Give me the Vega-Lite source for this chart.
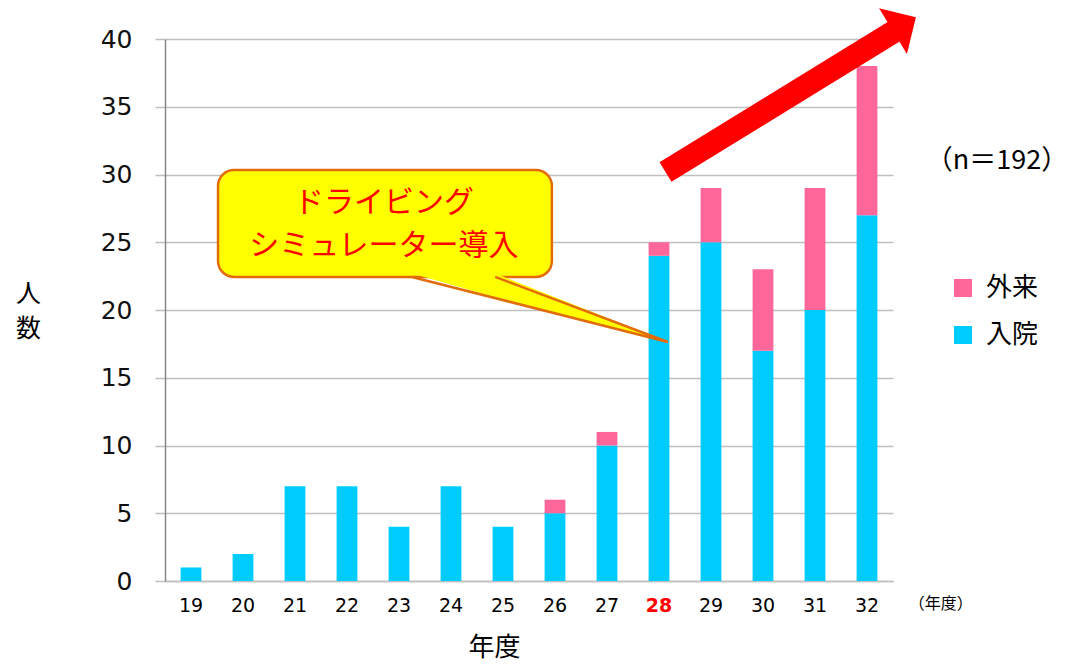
{
  "$schema": "https://vega.github.io/schema/vega-lite/v6.json",
  "width": 728,
  "height": 542,
  "autosize": {"type": "none"},
  "padding": {"left": 165, "top": 39, "right": 186, "bottom": 83},
  "background": "white",
  "config": {
    "view": {"stroke": null},
    "legend": {
      "orient": "none",
      "legendX": 785,
      "legendY": 236,
      "title": null,
      "symbolType": "square",
      "symbolSize": 324,
      "symbolStrokeWidth": 0,
      "symbolOpacity": 1,
      "labelFontSize": 26,
      "labelFont": "Noto Sans CJK JP",
      "labelColor": "#000000",
      "labelOffset": 10,
      "rowPadding": 21
    }
  },
  "resolve": {"scale": {"x": "independent"}, "axis": {"x": "independent", "y": "independent"}},
  "layer": [
    {
      "data": {
        "values": [
          {"year": "19", "type": "入院", "count": 1},
          {"year": "20", "type": "入院", "count": 2},
          {"year": "21", "type": "入院", "count": 7},
          {"year": "22", "type": "入院", "count": 7},
          {"year": "23", "type": "入院", "count": 4},
          {"year": "24", "type": "入院", "count": 7},
          {"year": "25", "type": "入院", "count": 4},
          {"year": "26", "type": "入院", "count": 5},
          {"year": "26", "type": "外来", "count": 1},
          {"year": "27", "type": "入院", "count": 10},
          {"year": "27", "type": "外来", "count": 1},
          {"year": "28", "type": "入院", "count": 24},
          {"year": "28", "type": "外来", "count": 1},
          {"year": "29", "type": "入院", "count": 25},
          {"year": "29", "type": "外来", "count": 4},
          {"year": "30", "type": "入院", "count": 17},
          {"year": "30", "type": "外来", "count": 6},
          {"year": "31", "type": "入院", "count": 20},
          {"year": "31", "type": "外来", "count": 9},
          {"year": "32", "type": "入院", "count": 27},
          {"year": "32", "type": "外来", "count": 11}
        ]
      },
      "mark": {"type": "bar"},
      "encoding": {
        "x": {
          "field": "year",
          "type": "ordinal",
          "scale": {"paddingInner": 0.6, "paddingOuter": 0.3},
          "axis": {
            "title": "年度",
            "titleFont": "Noto Sans CJK JP",
            "titleFontSize": 26,
            "titleFontWeight": "normal",
            "titleColor": "#000000",
            "titleX": 329,
            "titleY": 53,
            "titleBaseline": "top",
            "titleAlign": "center",
            "labelAngle": 0,
            "labelFont": "DejaVu Sans",
            "labelFontSize": 19,
            "labelColor": {"condition": {"test": "datum.value === '28'", "value": "#FF0000"}, "value": "#000000"},
            "labelFontWeight": {"condition": {"test": "datum.value === '28'", "value": "bold"}, "value": "normal"},
            "labelPadding": 15,
            "ticks": false,
            "tickSize": 0,
            "domainColor": "#BFBFBF",
            "domainWidth": 1.5,
            "grid": false
          }
        },
        "y": {
          "field": "count",
          "type": "quantitative",
          "stack": "zero",
          "scale": {"domain": [0, 40], "nice": false},
          "axis": {
            "title": ["人", "数"],
            "titleFont": "Noto Sans CJK JP",
            "titleFontSize": 25,
            "titleFontWeight": "normal",
            "titleColor": "#000000",
            "titleAngle": 0,
            "titleX": -137,
            "titleY": 242,
            "titleAlign": "center",
            "titleBaseline": "top",
            "titleLineHeight": 35,
            "values": [0, 5, 10, 15, 20, 25, 30, 35, 40],
            "labelFont": "DejaVu Sans",
            "labelFontSize": 25,
            "labelColor": "#111111",
            "labelPadding": 23,
            "tickSize": 10,
            "tickColor": "#BFBFBF",
            "tickWidth": 1.5,
            "gridColor": "#BFBFBF",
            "gridWidth": 1.5,
            "domainColor": "#868686",
            "domainWidth": 1.5
          }
        },
        "color": {
          "field": "type",
          "type": "nominal",
          "scale": {"domain": ["外来", "入院"], "range": ["#FF6699", "#00CCFF"]}
        },
        "order": {"field": "type", "sort": "ascending"}
      }
    },
    {
      "data": {"values": [{"x1": 1.02, "x2": 7.44, "y1": 30.33, "y2": 22.44}]},
      "mark": {"type": "rect", "fill": "#FFFF00", "stroke": "#E36C09", "strokeWidth": 2.5, "cornerRadius": 16},
      "encoding": {
        "x": {"field": "x1", "type": "quantitative", "scale": {"domain": [0, 14], "nice": false, "zero": false}, "axis": null},
        "x2": {"field": "x2"},
        "y": {"field": "y1", "type": "quantitative", "scale": {"domain": [0, 40], "nice": false}, "axis": null},
        "y2": {"field": "y2"}
      }
    },
    {
      "data": {
        "values": [
          {"x": 4.75, "top": 22.7, "bottom": 22.7},
          {"x": 6.35, "top": 22.7, "bottom": 20.95},
          {"x": 9.67, "top": 17.64, "bottom": 17.64}
        ]
      },
      "mark": {"type": "area", "fill": "#FFFF00", "opacity": 1},
      "encoding": {
        "x": {"field": "x", "type": "quantitative", "scale": {"domain": [0, 14], "nice": false, "zero": false}, "axis": null},
        "y": {"field": "top", "type": "quantitative", "scale": {"domain": [0, 40], "nice": false}, "axis": null},
        "y2": {"field": "bottom"}
      }
    },
    {
      "data": {
        "values": [
          {"seg": "a", "x": 4.75, "y": 22.44},
          {"seg": "a", "x": 9.67, "y": 17.64},
          {"seg": "b", "x": 6.35, "y": 22.44},
          {"seg": "b", "x": 9.67, "y": 17.64}
        ]
      },
      "mark": {"type": "line", "stroke": "#E36C09", "strokeWidth": 2.5},
      "encoding": {
        "x": {"field": "x", "type": "quantitative", "scale": {"domain": [0, 14], "nice": false, "zero": false}, "axis": null},
        "y": {"field": "y", "type": "quantitative", "scale": {"domain": [0, 40], "nice": false}, "axis": null},
        "detail": {"field": "seg"}
      }
    },
    {
      "data": {
        "values": [
          {"x": 4.21, "y": 27.9, "label": "ドライビング"},
          {"x": 4.21, "y": 24.72, "label": "シミュレーター導入"}
        ]
      },
      "mark": {"type": "text", "font": "Noto Sans CJK JP", "fontSize": 30, "color": "#FF0000", "align": "center", "baseline": "middle"},
      "encoding": {
        "x": {"field": "x", "type": "quantitative", "scale": {"domain": [0, 14], "nice": false, "zero": false}, "axis": null},
        "y": {"field": "y", "type": "quantitative", "scale": {"domain": [0, 40], "nice": false}, "axis": null},
        "text": {"field": "label"}
      }
    },
    {
      "data": {"values": [{"x1": 9.625, "y1": 30.18, "x2": 14.02, "y2": 40.55}]},
      "mark": {"type": "rule", "color": "#FF0000", "strokeWidth": 23, "strokeCap": "butt"},
      "encoding": {
        "x": {"field": "x1", "type": "quantitative", "scale": {"domain": [0, 14], "nice": false, "zero": false}, "axis": null},
        "y": {"field": "y1", "type": "quantitative", "scale": {"domain": [0, 40], "nice": false}, "axis": null},
        "x2": {"field": "x2"},
        "y2": {"field": "y2"}
      }
    },
    {
      "data": {"values": [{"x": 14.0, "y": 40.58}]},
      "mark": {"type": "point", "shape": "M0,-1L1,0L-1,0Z", "size": 2873, "angle": 58.7, "filled": true, "color": "#FF0000", "opacity": 1, "strokeWidth": 0},
      "encoding": {
        "x": {"field": "x", "type": "quantitative", "scale": {"domain": [0, 14], "nice": false, "zero": false}, "axis": null},
        "y": {"field": "y", "type": "quantitative", "scale": {"domain": [0, 40], "nice": false}, "axis": null}
      }
    },
    {
      "data": {"values": [{"x": 16.0, "y": 31.0, "label": "（n＝192）"}]},
      "mark": {"type": "text", "font": "Noto Sans CJK JP", "fontSize": 27, "color": "#000000", "align": "center", "baseline": "middle"},
      "encoding": {
        "x": {"field": "x", "type": "quantitative", "scale": {"domain": [0, 14], "nice": false, "zero": false}, "axis": null},
        "y": {"field": "y", "type": "quantitative", "scale": {"domain": [0, 40], "nice": false}, "axis": null},
        "text": {"field": "label"}
      }
    },
    {
      "data": {"values": [{"x": 14.92, "y": -1.7, "label": "（年度）"}]},
      "mark": {"type": "text", "font": "Noto Sans CJK JP", "fontSize": 16, "color": "#000000", "align": "center", "baseline": "middle"},
      "encoding": {
        "x": {"field": "x", "type": "quantitative", "scale": {"domain": [0, 14], "nice": false, "zero": false}, "axis": null},
        "y": {"field": "y", "type": "quantitative", "scale": {"domain": [0, 40], "nice": false}, "axis": null},
        "text": {"field": "label"}
      }
    }
  ]
}
